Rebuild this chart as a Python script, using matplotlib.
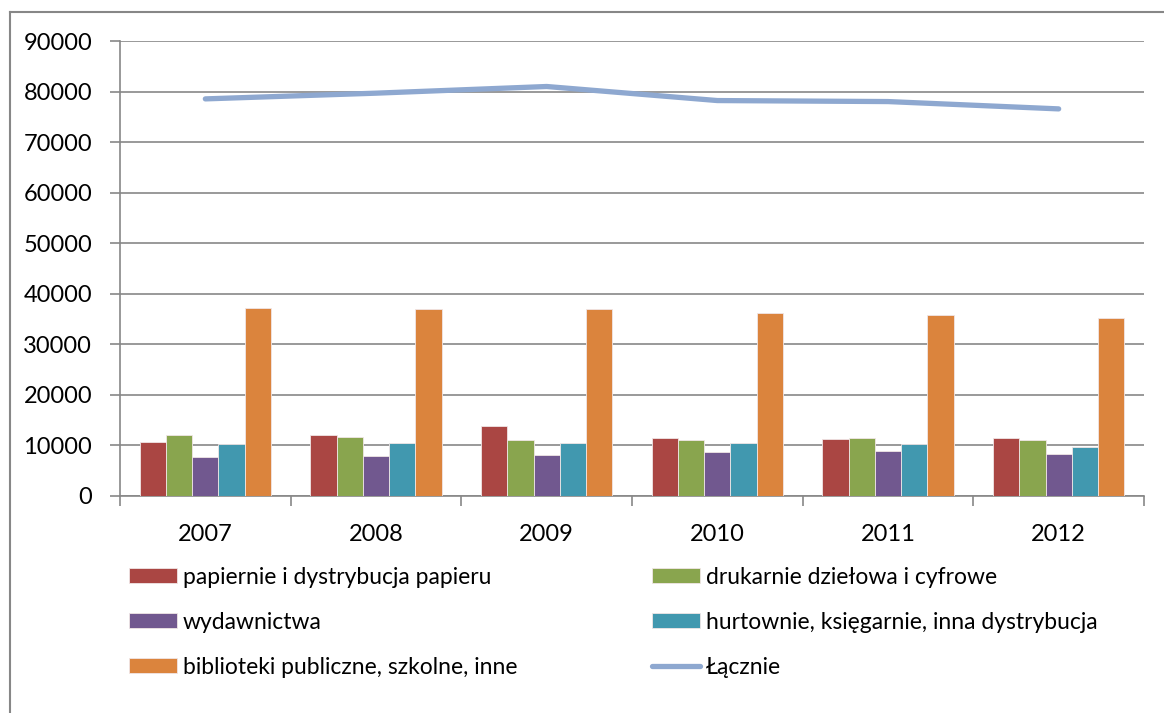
import numpy as np
import matplotlib
matplotlib.use("Agg")
import matplotlib.pyplot as plt
from matplotlib.lines import Line2D

plt.rcParams["font.family"] = ["Lato", "DejaVu Sans"]

years = ["2007", "2008", "2009", "2010", "2011", "2012"]
papiernie = [10770, 12080, 13870, 11430, 11290, 11560]
drukarnie = [12150, 11760, 11090, 11090, 11490, 11160]
wydawnictwa = [7660, 7860, 8120, 8650, 8850, 8390]
hurtownie = [10300, 10570, 10500, 10430, 10240, 9780]
biblioteki = [37170, 36910, 36970, 36180, 35720, 35190]
lacznie = [78550, 79680, 81000, 78220, 78020, 76570]

bar_labels = [
    "papiernie i dystrybucja papieru",
    "drukarnie dziełowa i cyfrowe",
    "wydawnictwa",
    "hurtownie, księgarnie, inna dystrybucja",
    "biblioteki publiczne, szkolne, inne",
]
line_label = "Łącznie"
colors = ["#AA4643", "#89A54E", "#71588F", "#4198AF", "#DB843D"]
line_color = "#8EA8D0"
grey = "#878787"
fs_tick = 17
fs_leg = 16.5

fig = plt.figure(figsize=(11.64, 7.13), dpi=100)
ax = fig.add_axes([120 / 1164, 1 - 496 / 713, 1024 / 1164, 455 / 713])

x = np.arange(len(years))
series = [papiernie, drukarnie, wydawnictwa, hurtownie, biblioteki]
w = 0.154
bars = []
for i, (vals, c) in enumerate(zip(series, colors)):
    b = ax.bar(x + (i - 2) * w, vals, width=w, color=c, edgecolor="#f0e6e6",
               linewidth=0.6, zorder=3)
    bars.append(b)
line, = ax.plot(x, lacznie, color=line_color, linewidth=3.8,
                solid_capstyle="round", zorder=4)

ax.set_xlim(-0.5, len(years) - 0.5)
ax.set_ylim(0, 90000)
ax.set_yticks(np.arange(0, 90001, 10000))
ax.set_yticklabels([str(v) for v in range(0, 90001, 10000)], fontsize=fs_tick)
ax.set_xticks(x)
ax.set_xticklabels(years, fontsize=fs_tick)
ax.set_xticks(np.arange(-0.5, len(years)), minor=True)
ax.tick_params(axis="x", which="major", length=0, pad=20)
ax.tick_params(axis="x", which="minor", length=7, color=grey, width=1.2)
ax.tick_params(axis="y", length=7, color=grey, width=1.2, pad=13)
ax.grid(axis="y", color=grey, linewidth=1.2, zorder=0)
for s in ["top", "right"]:
    ax.spines[s].set_visible(False)
for s in ["left", "bottom"]:
    ax.spines[s].set_color(grey)
    ax.spines[s].set_linewidth(1.2)

handles = [bars[0], bars[2], bars[4], bars[1], bars[3],
           Line2D([], [], color=line_color, linewidth=3.8, solid_capstyle="round")]
labels = [bar_labels[0], bar_labels[2], bar_labels[4], bar_labels[1], bar_labels[3], line_label]
fig.legend(handles, labels, ncol=2, loc="upper left",
           bbox_to_anchor=(108 / 1164, 1 - 546 / 713), frameon=False,
           fontsize=fs_leg, handlelength=2.1, handleheight=0.66, handletextpad=0.27,
           columnspacing=5.85, labelspacing=1.05)

# chart area border (top and left visible)
fig.add_artist(Line2D([10 / 1164, 10 / 1164], [0, 1 - 12 / 713], color=grey,
                      linewidth=1.5, transform=fig.transFigure))
fig.add_artist(Line2D([10 / 1164, 1], [1 - 12 / 713, 1 - 12 / 713], color=grey,
                      linewidth=1.5, transform=fig.transFigure))

fig.savefig("out.png", dpi=100)
